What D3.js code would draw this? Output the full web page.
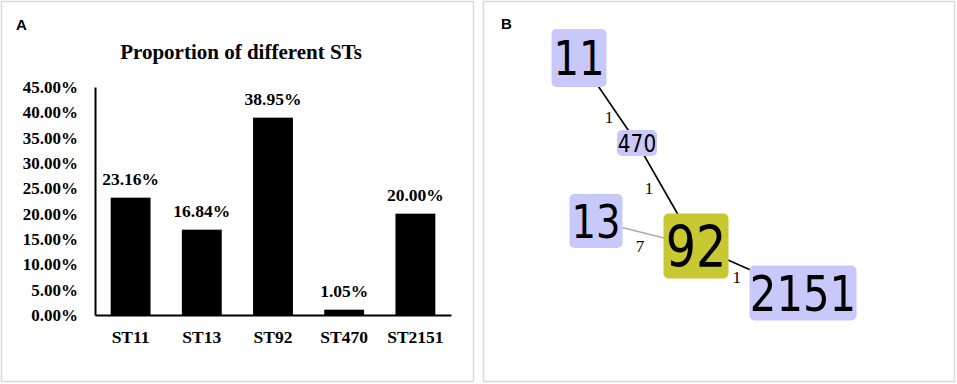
<!DOCTYPE html>
<html>
<head>
<meta charset="utf-8">
<script src="https://cdn.jsdelivr.net/npm/d3@7"></script>
<style>
  body { margin: 0; background: #fff; }
  svg { display: block; }
  .serif { font-family: "Times New Roman", "Liberation Serif", serif; font-weight: bold; fill: #000; }
  .node-label { font-family: "DejaVu Sans Condensed", "DejaVu Sans", sans-serif; font-stretch: condensed; fill: #000; }
</style>
</head>
<body>
<div id="chart"></div>
<script>
// ---- data: panel A ----
var categories = ["ST11", "ST13", "ST92", "ST470", "ST2151"];
var proportions = [23.16, 16.84, 38.95, 1.05, 20.00];
var yTicks = [0, 5, 10, 15, 20, 25, 30, 35, 40, 45];

// ---- data: panel B (minimum spanning tree) ----
var nodeIds = ["11", "470", "13", "92", "2151"];
// layout coordinates of node centres (tree layout units)
var nodeX = [0.0, 5.8, 1.7, 11.7, 22.4];
var nodeY = [0.0, 8.5, 16.3, 18.8, 23.5];
var linkSource = ["11", "470", "13", "92"];
var linkTarget = ["470", "92", "92", "2151"];
var linkDistance = [1, 1, 7, 1];

// node styling (kept apart from data)
var nodeStyle = {
    "11":   { w: 55, h: 58, font: 48, fill: "#c8c8fa" },
    "470":  { w: 40, h: 26, font: 24, fill: "#c8c8fa" },
    "13":   { w: 53, h: 54, font: 46, fill: "#c8c8fa" },
    "92":   { w: 65, h: 65, font: 57, fill: "#c8c832" },
    "2151": { w: 107, h: 55, font: 50, fill: "#c8c8fa" }
};

var W = 957, H = 384;
var svg = d3.select("#chart").append("svg")
    .attr("width", W)
    .attr("height", H);

// panel frames
svg.append("rect").attr("x", 1.5).attr("y", 1.5).attr("width", 472).attr("height", 380)
    .attr("fill", "none").attr("stroke", "#d9d9d9").attr("stroke-width", 1.5);
svg.append("rect").attr("x", 483.5).attr("y", 1.5).attr("width", 471).attr("height", 380)
    .attr("fill", "none").attr("stroke", "#d9d9d9").attr("stroke-width", 1.5);

svg.append("text").attr("x", 16).attr("y", 30)
    .style("font-family", "'Liberation Sans', Arial, sans-serif")
    .style("font-weight", "bold").style("font-size", "15px")
    .text("A");
svg.append("text").attr("x", 501).attr("y", 29)
    .style("font-family", "'Liberation Sans', Arial, sans-serif")
    .style("font-weight", "bold").style("font-size", "15px")
    .text("B");

/*
 * Panel A: bar chart
 */
var a = svg.append("g");

var x = d3.scaleBand()
    .domain(categories)
    .range([95, 451])
    .paddingInner(0.44)
    .paddingOuter(0.22);

var y = d3.scaleLinear()
    .domain([0, 45])
    .range([315, 87]);

a.append("text")
    .attr("class", "serif")
    .attr("x", 241)
    .attr("y", 59)
    .attr("text-anchor", "middle")
    .style("font-size", "21px")
    .text("Proportion of different STs");

a.selectAll(".bar")
    .data(proportions)
    .enter().append("rect")
    .attr("class", "bar")
    .attr("x", function(d, i){ return x(categories[i]); })
    .attr("width", x.bandwidth())
    .attr("y", function(d){ return y(d); })
    .attr("height", function(d){ return y(0) - y(d); })
    .attr("fill", "#000");

a.selectAll(".val")
    .data(proportions)
    .enter().append("text")
    .attr("class", "serif val")
    .attr("x", function(d, i){ return x(categories[i]) + x.bandwidth() / 2; })
    .attr("y", function(d){ return y(d) - 13; })
    .attr("text-anchor", "middle")
    .style("font-size", "17.5px")
    .text(function(d){ return d.toFixed(2) + "%"; });

// y axis
var yAxis = d3.axisLeft(y)
    .tickValues(yTicks)
    .tickSize(0)
    .tickPadding(17)
    .tickFormat(function(d){ return d.toFixed(2) + "%"; });

var yg = a.append("g")
    .attr("transform", "translate(95,0)")
    .call(yAxis);
yg.select(".domain").attr("stroke", "#000").attr("stroke-width", 2);
yg.selectAll("text")
    .attr("class", "serif")
    .style("font-size", "17px");

// x axis
var xAxis = d3.axisBottom(x).tickSize(0).tickPadding(16);
var xg = a.append("g")
    .attr("transform", "translate(0,315)")
    .call(xAxis);
xg.select(".domain").attr("stroke", "#000").attr("stroke-width", 2);
xg.selectAll("text")
    .attr("class", "serif")
    .style("font-size", "17.5px");

/*
 * Panel B: minimum spanning tree
 */
var b = svg.append("g");

var nx = d3.scaleLinear().domain([0, 22.4]).range([579, 803]);
var ny = d3.scaleLinear().domain([0, 23.5]).range([58, 293]);

var pos = {};
nodeIds.forEach(function(id, i){ pos[id] = { x: nx(nodeX[i]), y: ny(nodeY[i]) }; });

var links = linkSource.map(function(s, i){
    return { s: s, t: linkTarget[i], d: linkDistance[i] };
});

b.selectAll(".link")
    .data(links)
    .enter().append("line")
    .attr("class", "link")
    .attr("x1", function(d){ return pos[d.s].x; })
    .attr("y1", function(d){ return pos[d.s].y; })
    .attr("x2", function(d){ return pos[d.t].x; })
    .attr("y2", function(d){ return pos[d.t].y; })
    .attr("stroke", function(d){ return d.d > 1 ? "#aaaaaa" : "#000"; })
    .attr("stroke-width", 1.6);

// edge labels sit beside the visible part of each link
var labelT = [0.69, 0.44, 0.44, 0.38];
var labelOffset = [[-10, 0], [-14, 0], [0, 14], [0, 13]];
b.selectAll(".elabel")
    .data(links)
    .enter().append("text")
    .attr("class", "elabel")
    .attr("x", function(d, i){
        var p = pos[d.s], q = pos[d.t];
        return p.x + (q.x - p.x) * labelT[i] + labelOffset[i][0];
    })
    .attr("y", function(d, i){
        var p = pos[d.s], q = pos[d.t];
        return p.y + (q.y - p.y) * labelT[i] + labelOffset[i][1];
    })
    .attr("text-anchor", "middle")
    .attr("dy", "0.35em")
    .attr("fill", "#000")
    .style("font-family", "'Liberation Serif', serif")
    .style("font-size", "17px")
    .text(function(d){ return d.d; });

var nodes = b.selectAll(".node")
    .data(nodeIds)
    .enter().append("g")
    .attr("class", "node")
    .attr("transform", function(d){ return "translate(" + pos[d].x + "," + pos[d].y + ")"; });

nodes.append("rect")
    .attr("x", function(d){ return -nodeStyle[d].w / 2; })
    .attr("y", function(d){ return -nodeStyle[d].h / 2; })
    .attr("width", function(d){ return nodeStyle[d].w; })
    .attr("height", function(d){ return nodeStyle[d].h; })
    .attr("rx", 5)
    .attr("fill", function(d){ return nodeStyle[d].fill; });

nodes.append("text")
    .attr("class", "node-label")
    .attr("text-anchor", "middle")
    .attr("dy", "0.36em")
    .attr("transform", "scale(0.93,1)")
    .style("font-size", function(d){ return nodeStyle[d].font + "px"; })
    .text(function(d){ return d; });
</script>
</body>
</html>
